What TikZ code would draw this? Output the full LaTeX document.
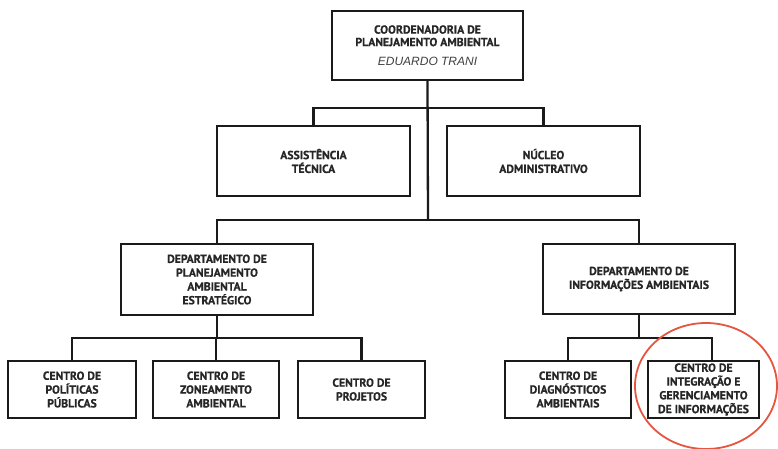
\documentclass[tikz,border=0pt]{standalone}
\usepackage{fontspec}
\setmainfont{PT Sans}[BoldFont={PT Sans Bold}, BoldFeatures={FakeBold=0.6}]
\newfontfamily\namefont{Liberation Sans}
\usetikzlibrary{shapes.geometric}
\definecolor{txt}{HTML}{262626}
\definecolor{namecol}{HTML}{404040}
\definecolor{ringcol}{HTML}{E5553F}
\definecolor{linecol}{HTML}{1A1A1A}
\begin{document}
\begin{tikzpicture}[x=1pt,y=-1pt,
  box/.style={draw=linecol, line width=2.3pt, fill=white, inner sep=0pt, align=center,
    font=\fontsize{11.7}{13.8}\selectfont\bfseries, text=txt},
  link/.style={draw=linecol, line width=2.3pt},
  ringnode/.style={draw=ringcol, line width=1.8pt, ellipse, inner sep=0pt}]
\useasboundingbox[fill=white] (0,0) rectangle (778,448);
% nodes
\node[box, minimum width=191pt, minimum height=69pt,
  font=\fontsize{11.7}{12.5}\selectfont\bfseries] (top) at (427.5,45.5)
  {COORDENADORIA DE\\PLANEJAMENTO AMBIENTAL\\[7pt]{\namefont\fontsize{12}{12}\selectfont\mdseries\itshape\color{namecol}EDUARDO TRANI}};
\node[box, minimum width=193pt, minimum height=70pt] (assist) at (313.5,161) {ASSISTÊNCIA\\TÉCNICA};
\node[box, minimum width=193pt, minimum height=70pt] (nucleo) at (543.5,161) {NÚCLEO\\ADMINISTRATIVO};
\node[box, minimum width=192pt, minimum height=71pt] (deptL) at (217,279.5) {DEPARTAMENTO DE\\PLANEJAMENTO\\AMBIENTAL\\ESTRATÉGICO};
\node[box, minimum width=192pt, minimum height=70pt] (deptR) at (639,279) {DEPARTAMENTO DE\\INFORMAÇÕES AMBIENTAIS};
\node[box, minimum width=128pt, minimum height=57pt] (c1) at (72,389.5) {CENTRO DE\\POLÍTICAS\\PÚBLICAS};
\node[box, minimum width=126pt, minimum height=57pt] (c2) at (216,389.5) {CENTRO DE\\ZONEAMENTO\\AMBIENTAL};
\node[box, minimum width=127pt, minimum height=57pt] (c3) at (361.5,389.5) {CENTRO DE\\PROJETOS};
\node[box, minimum width=126pt, minimum height=57pt] (c4) at (568,389.5) {CENTRO DE\\DIAGNÓSTICOS\\AMBIENTAIS};
\node[box, minimum width=111pt, minimum height=57pt] (c5) at (703.5,389.5) {CENTRO DE\\INTEGRAÇÃO E\\GERENCIAMENTO\\DE INFORMAÇÕES};
% junctions
\coordinate (j1) at (428,108);
\coordinate (j2) at (428,220);
\coordinate (j3) at (217,338);
\coordinate (j4) at (639,338);
% connectors
\draw[link] (top.south) -- (j2);
\draw[link] (assist.north) |- (j1) -| (nucleo.north);
\draw[link] (deptL.north) |- (j2) -| (deptR.north);
\draw[link] (deptL.south) -- (j3);
\draw[link] (c1.north) |- (j3) -| (c3.north);
\draw[link] (c2.north) -- (c2.north |- j3);
\draw[link] (deptR.south) -- (j4);
\draw[link] (c4.north) |- (j4) -| ([xshift=8.5pt]c5.north);
% highlight ring
\node[ringnode, minimum width=142pt, minimum height=126pt] (ring) at (706,386) {};
\end{tikzpicture}
\end{document}
